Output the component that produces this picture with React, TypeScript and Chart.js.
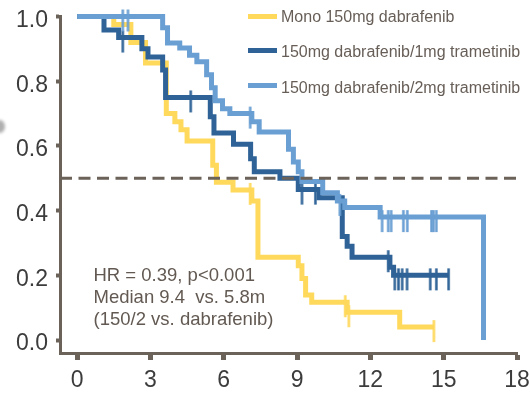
import React, { useEffect, useRef } from "react";
import { Chart, registerables } from "chart.js";

Chart.register(...registerables);

// ---- Data ----
const xTickValues = [0, 3, 6, 9, 12, 15, 18];
const yTickValues = [0, 0.2, 0.4, 0.6, 0.8, 1.0];

const seriesNames = [
  "Mono 150mg dabrafenib",
  "150mg dabrafenib/1mg trametinib",
  "150mg dabrafenib/2mg trametinib",
];

// Mono 150mg dabrafenib (months, survival)
const monoMonths = [0, 1.5, 2.2, 2.8, 3.65, 4.0, 4.25, 4.5, 5.55, 5.7, 6.38, 7.15, 7.4, 9.05, 9.2, 9.35, 9.6, 11.05, 13.2, 14.6];
const monoSurv = [1.0, 0.975, 0.92, 0.856, 0.7, 0.675, 0.65, 0.615, 0.54, 0.488, 0.464, 0.43, 0.256, 0.23, 0.19, 0.139, 0.117, 0.086, 0.04, 0.04];
const monoCensorMonths = [7.08, 10.97, 11.12, 14.6];
const monoCensorSurv = [0.464, 0.117, 0.086, 0.04];

// 150mg dabrafenib / 1mg trametinib
const d1Months = [0, 1.1, 1.7, 2.65, 2.9, 3.5, 3.62, 5.45, 5.6, 6.4, 7.1, 7.25, 8.3, 9.05, 9.9, 10.85, 11.05, 11.25, 12.8, 12.95, 15.2];
const d1Surv = [1.0, 0.958, 0.935, 0.9, 0.875, 0.835, 0.75, 0.69, 0.64, 0.605, 0.56, 0.52, 0.5, 0.465, 0.44, 0.32, 0.29, 0.256, 0.225, 0.2, 0.2];
const d1CensorMonths = [1.87, 4.65, 9.2, 9.75, 12.73, 13.0, 13.15, 13.3, 13.5, 14.45, 14.7, 15.2];
const d1CensorSurv = [0.935, 0.75, 0.465, 0.465, 0.256, 0.2, 0.2, 0.2, 0.2, 0.2, 0.2, 0.2];

// 150mg dabrafenib / 2mg trametinib
const d2Months = [0, 3.5, 3.7, 4.2, 4.6, 4.9, 5.3, 5.5, 5.65, 5.95, 6.25, 7.15, 7.45, 8.65, 8.85, 9.05, 9.2, 10.05, 10.65, 10.95, 12.4, 16.63, 16.63];
const d2Surv = [1.0, 0.965, 0.918, 0.903, 0.88, 0.86, 0.82, 0.78, 0.74, 0.715, 0.7, 0.675, 0.643, 0.59, 0.55, 0.52, 0.49, 0.455, 0.43, 0.41, 0.38, 0.38, 0.0];
const d2CensorMonths = [1.87, 2.08, 7.08, 10.75, 12.48, 12.73, 12.85, 13.35, 13.51, 14.5, 14.58, 14.7];
const d2CensorSurv = [1.0, 1.0, 0.7, 0.43, 0.38, 0.38, 0.38, 0.38, 0.38, 0.38, 0.38, 0.38];

const medianSurv = 0.5;

const annotationLines = [
  "HR = 0.39, p<0.001",
  "Median 9.4  vs. 5.8m",
  "(150/2 vs. dabrafenib)",
];

// ---- Styles ----
const X_MIN = -0.7;
const X_MAX = 18;
const Y_MIN = -0.04;
const Y_MAX = 1.0;
const COLORS = ["#FFD95C", "#2F6397", "#6A9FD3"];
const AXIS = "#6B625A";
const LABEL = "#3C3C3C";
const TEXT = "#625952";
const FONT = "'Liberation Sans', Arial, Helvetica, sans-serif";

export default function App() {
  const ref = useRef<HTMLCanvasElement>(null);

  useEffect(() => {
    const canvas = ref.current;
    if (!canvas) return;

    const mkTick = (color: string) => {
      const c = document.createElement("canvas");
      c.width = 5;
      c.height = 44;
      const g = c.getContext("2d")!;
      g.fillStyle = color;
      g.fillRect(1.25, 15, 2.5, 22);
      return c;
    };
    const toPts = (xs: number[], ys: number[]) => xs.map((x, i) => ({ x, y: ys[i] }));
    const lineDs = (label: string, xs: number[], ys: number[], color: string, order: number) => ({
      label,
      data: toPts(xs, ys),
      borderColor: color,
      backgroundColor: color,
      borderWidth: 5,
      stepped: true,
      pointRadius: 0,
      pointHoverRadius: 0,
      fill: false,
      clip: false,
      order,
      borderCapStyle: "butt",
      borderJoinStyle: "miter",
    });
    const censorDs = (xs: number[], ys: number[], color: string, order: number) => ({
      label: "censor",
      data: toPts(xs, ys),
      showLine: false,
      pointStyle: mkTick(color),
      pointRadius: 3,
      pointHoverRadius: 3,
      borderColor: color,
      backgroundColor: color,
      clip: false,
      order,
    });

    const chart = new Chart(canvas, {
      type: "line",
      data: {
        datasets: [
          {
            label: "median",
            data: [
              { x: X_MIN, y: medianSurv },
              { x: X_MAX, y: medianSurv },
            ],
            borderColor: AXIS,
            borderWidth: 3,
            borderDash: [12, 6.5],
            pointRadius: 0,
            fill: false,
            clip: false,
            order: 0,
          },
          censorDs(d2CensorMonths, d2CensorSurv, COLORS[2], 1),
          lineDs(seriesNames[2], d2Months, d2Surv, COLORS[2], 2),
          censorDs(d1CensorMonths, d1CensorSurv, COLORS[1], 3),
          lineDs(seriesNames[1], d1Months, d1Surv, COLORS[1], 4),
          censorDs(monoCensorMonths, monoCensorSurv, COLORS[0], 5),
          lineDs(seriesNames[0], monoMonths, monoSurv, COLORS[0], 6),
        ] as any,
      },
      options: {
        responsive: false,
        animation: false,
        devicePixelRatio: 1,
        events: [],
        layout: { padding: { top: 16.5, right: 13, left: 0, bottom: 0 } },
        plugins: {
          legend: { display: false },
          tooltip: { enabled: false },
        },
        scales: {
          x: {
            type: "linear",
            min: X_MIN,
            max: X_MAX,
            afterFit: (s: any) => {
              s.height = 41;
              s.paddingLeft = 0;
              s.paddingRight = 0;
            },
            afterBuildTicks: (s: any) => {
              s.ticks = xTickValues.map((v) => ({ value: v }));
            },
            grid: {
              display: true,
              drawOnChartArea: false,
              drawTicks: true,
              tickLength: 7,
              tickWidth: 5,
              tickColor: AXIS,
            },
            border: { display: true, color: AXIS, width: 3 },
            ticks: {
              color: LABEL,
              font: { family: FONT, size: 23 },
              padding: 7,
              maxRotation: 0,
              autoSkip: false,
              callback: (v: any) => String(v),
            },
          },
          y: {
            type: "linear",
            min: Y_MIN,
            max: Y_MAX,
            afterFit: (s: any) => {
              s.width = 60;
              s.paddingTop = 0;
              s.paddingBottom = 0;
            },
            afterBuildTicks: (s: any) => {
              s.ticks = yTickValues.map((v) => ({ value: v }));
            },
            grid: {
              display: true,
              drawOnChartArea: false,
              drawTicks: true,
              tickLength: 4,
              tickWidth: 4,
              tickColor: AXIS,
            },
            border: { display: true, color: AXIS, width: 3 },
            ticks: {
              color: LABEL,
              font: { family: FONT, size: 23 },
              padding: 8,
              labelOffset: 4,
              autoSkip: false,
              callback: (v: any) => Number(v).toFixed(1),
            },
          },
        },
      } as any,
    });
    return () => chart.destroy();
  }, []);

  const legendLineTops = [13.5, 48, 83];
  const legendTextTops = [8.5, 44, 79.5];

  return (
    <div
      style={{
        position: "absolute",
        left: 0,
        top: 0,
        width: 530,
        height: 394,
        background: "#ffffff",
        overflow: "hidden",
      }}
    >
      <canvas ref={ref} width={530} height={394} style={{ display: "block", width: 530, height: 394 }} />
      <div
        style={{
          position: "absolute",
          left: -5,
          top: 120,
          width: 10,
          height: 13,
          borderRadius: "50%",
          background: "rgba(110,110,110,0.55)",
          filter: "blur(1.5px)",
        }}
      />
      {seriesNames.map((name, i) => (
        <React.Fragment key={name}>
          <div
            style={{
              position: "absolute",
              left: 248,
              top: legendLineTops[i],
              width: 29,
              height: 5,
              background: COLORS[i],
            }}
          />
          <div
            style={{
              position: "absolute",
              left: 281,
              top: legendTextTops[i],
              fontFamily: FONT,
              fontSize: 16,
              lineHeight: "16px",
              color: "#675E57",
              whiteSpace: "nowrap",
            }}
          >
            {name}
          </div>
        </React.Fragment>
      ))}
      <div
        style={{
          position: "absolute",
          left: 93.5,
          top: 263.6,
          fontFamily: FONT,
          fontSize: 18.5,
          lineHeight: "22px",
          color: TEXT,
          whiteSpace: "pre",
        }}
      >
        {annotationLines.map((l) => (
          <div key={l}>{l}</div>
        ))}
      </div>
    </div>
  );
}
